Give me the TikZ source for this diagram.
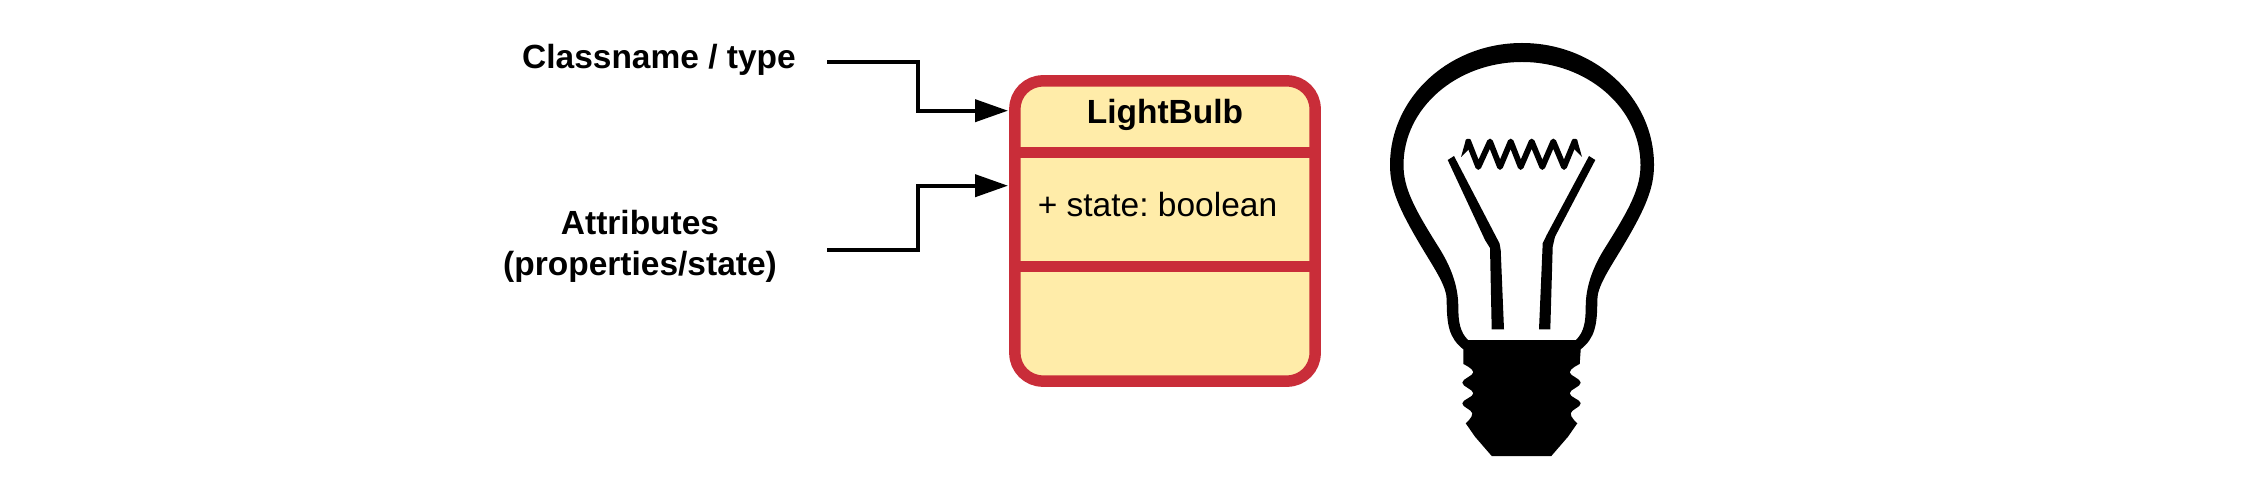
\documentclass[tikz,border=0pt]{standalone}
\usepackage{fontspec}
\setmainfont{Liberation Sans}
\frenchspacing
\usetikzlibrary{arrows.meta}
\definecolor{boxred}{HTML}{C92D39}
\definecolor{boxfill}{HTML}{FFECA9}
\tikzset{
  lbl/.style={inner sep=0pt,font=\fontsize{33.5}{41}\selectfont\bfseries,align=center},
  umlbox/.style={draw=boxred,fill=boxfill,line width=11.5pt,rounded corners=28pt,inner sep=0pt,minimum width=300.2pt,minimum height=300.2pt},
  divider/.style={draw=boxred,line width=10.7pt},
  pointer/.style={draw=black,line width=4pt,-{Triangle[length=33pt,width=22pt]}},
  bulbink/.style={fill=black,draw=none},
}
\begin{document}
\begin{tikzpicture}[x=1pt,y=-1pt]
\useasboundingbox (0,0) rectangle (2248,478);
% UML box
\node[umlbox] (box) at (1165,231) {};
\draw[divider] (box.west |- 0,152.5) -- (box.east |- 0,152.5);
\draw[divider] (box.west |- 0,266.3) -- (box.east |- 0,266.3);
\node[anchor=base,inner sep=0pt,font=\fontsize{33.5}{41}\selectfont\bfseries] (title) at (1165,124) {LightBulb};
\node[anchor=base,inner sep=0pt,font=\fontsize{33.5}{41}\selectfont] (attr) at (1157.5,217) {+ state: boolean};
% labels
\node[lbl,anchor=base] (cname) at (659,68.5) {Classname / type};
\node[lbl] (attrs) at (640,246.5) {Attributes\\(properties/state)};
% connectors
\coordinate (s1) at (827,62);
\coordinate (s2) at (827,250);
\coordinate (t1) at (1008,110.7);
\coordinate (t2) at (1008,185.7);
\draw[pointer] (s1) -- (917.7,62) -- (917.7,110.7) -- (t1);
\draw[pointer] (s2) -- (917.7,250) -- (917.7,185.7) -- (t2);
% bulb glass and screw
\path[bulbink,even odd rule]
  (1463.3,349.3)
  .. controls (1449,338) and (1446.7,325) .. (1446.7,300)
  .. controls (1446.7,287) and (1436,271) .. (1423.3,250)
  .. controls (1398,208) and (1390,188) .. (1390,165)
  .. controls (1390,97.6) and (1449.1,43) .. (1522,43)
  .. controls (1594.9,43) and (1654,97.6) .. (1654,165)
  .. controls (1654,188) and (1646,208) .. (1620.7,250)
  .. controls (1608,271) and (1597.3,287) .. (1597.3,300)
  .. controls (1597.3,325) and (1595,338) .. (1580.7,349.3)
  -- (1579.7,364)
  -- plot[smooth,tension=.7] coordinates {(1579.7,364) (1569.7,372.3) (1580.7,382.7) (1569.7,393.3) (1580.7,403.3) (1570.7,413.3) (1577.3,423.3)}
  -- (1568,436.7) -- (1551.3,456) -- (1491.7,456) -- (1475,436.7) -- (1465.7,423.3)
  -- plot[smooth,tension=.7] coordinates {(1465.7,423.3) (1472.3,413.3) (1462.3,403.3) (1473.3,393.3) (1462.3,382.7) (1473.3,372.3) (1463.3,364)}
  -- cycle
  (1468,340)
  .. controls (1460,332) and (1458.3,322) .. (1458.3,306.7)
  .. controls (1458.3,285) and (1450,265) .. (1438.3,246.7)
  .. controls (1414,208) and (1403.5,188) .. (1403.5,165)
  .. controls (1403.5,108.1) and (1456.6,62) .. (1522,62)
  .. controls (1587.4,62) and (1640.5,108.1) .. (1640.5,165)
  .. controls (1640.5,188) and (1630,208) .. (1605.7,246.7)
  .. controls (1594,265) and (1585.7,285) .. (1585.7,306.7)
  .. controls (1585.7,322) and (1584,332) .. (1576,340)
  -- cycle;
% filament supports
\path[bulbink] (1447.7,160) -- (1454,156) -- (1496.7,238) -- (1499.5,243.3) -- (1500.7,250) -- (1504,329.3) -- (1491.7,329.3) -- (1490,248) -- (1485,240) -- cycle;
\path[bulbink] (1589,156) -- (1595.3,160) -- (1555,236.7) -- (1552.7,246.7) -- (1550.3,329.3) -- (1539,329.3) -- (1542.7,243.3) -- (1546.7,235) -- cycle;
% filament coil
\draw[black,line width=5.8pt,line join=round,line cap=round]
  (1468.3,141.5) -- (1478.3,167) -- (1490,141.5) -- (1500,167) -- (1510.7,141.5) -- (1520.7,167) -- (1531.7,141.5) -- (1542.3,167) -- (1553.3,141.5) -- (1564,167) -- (1574.5,141.5);
\path[bulbink] (1461,157) -- (1466,139.3) -- (1470.5,139.3) -- (1470.5,147.5) -- cycle;
\path[bulbink] (1582,157) -- (1577,139.3) -- (1572.5,139.3) -- (1572.5,147.5) -- cycle;
\end{tikzpicture}
\end{document}
